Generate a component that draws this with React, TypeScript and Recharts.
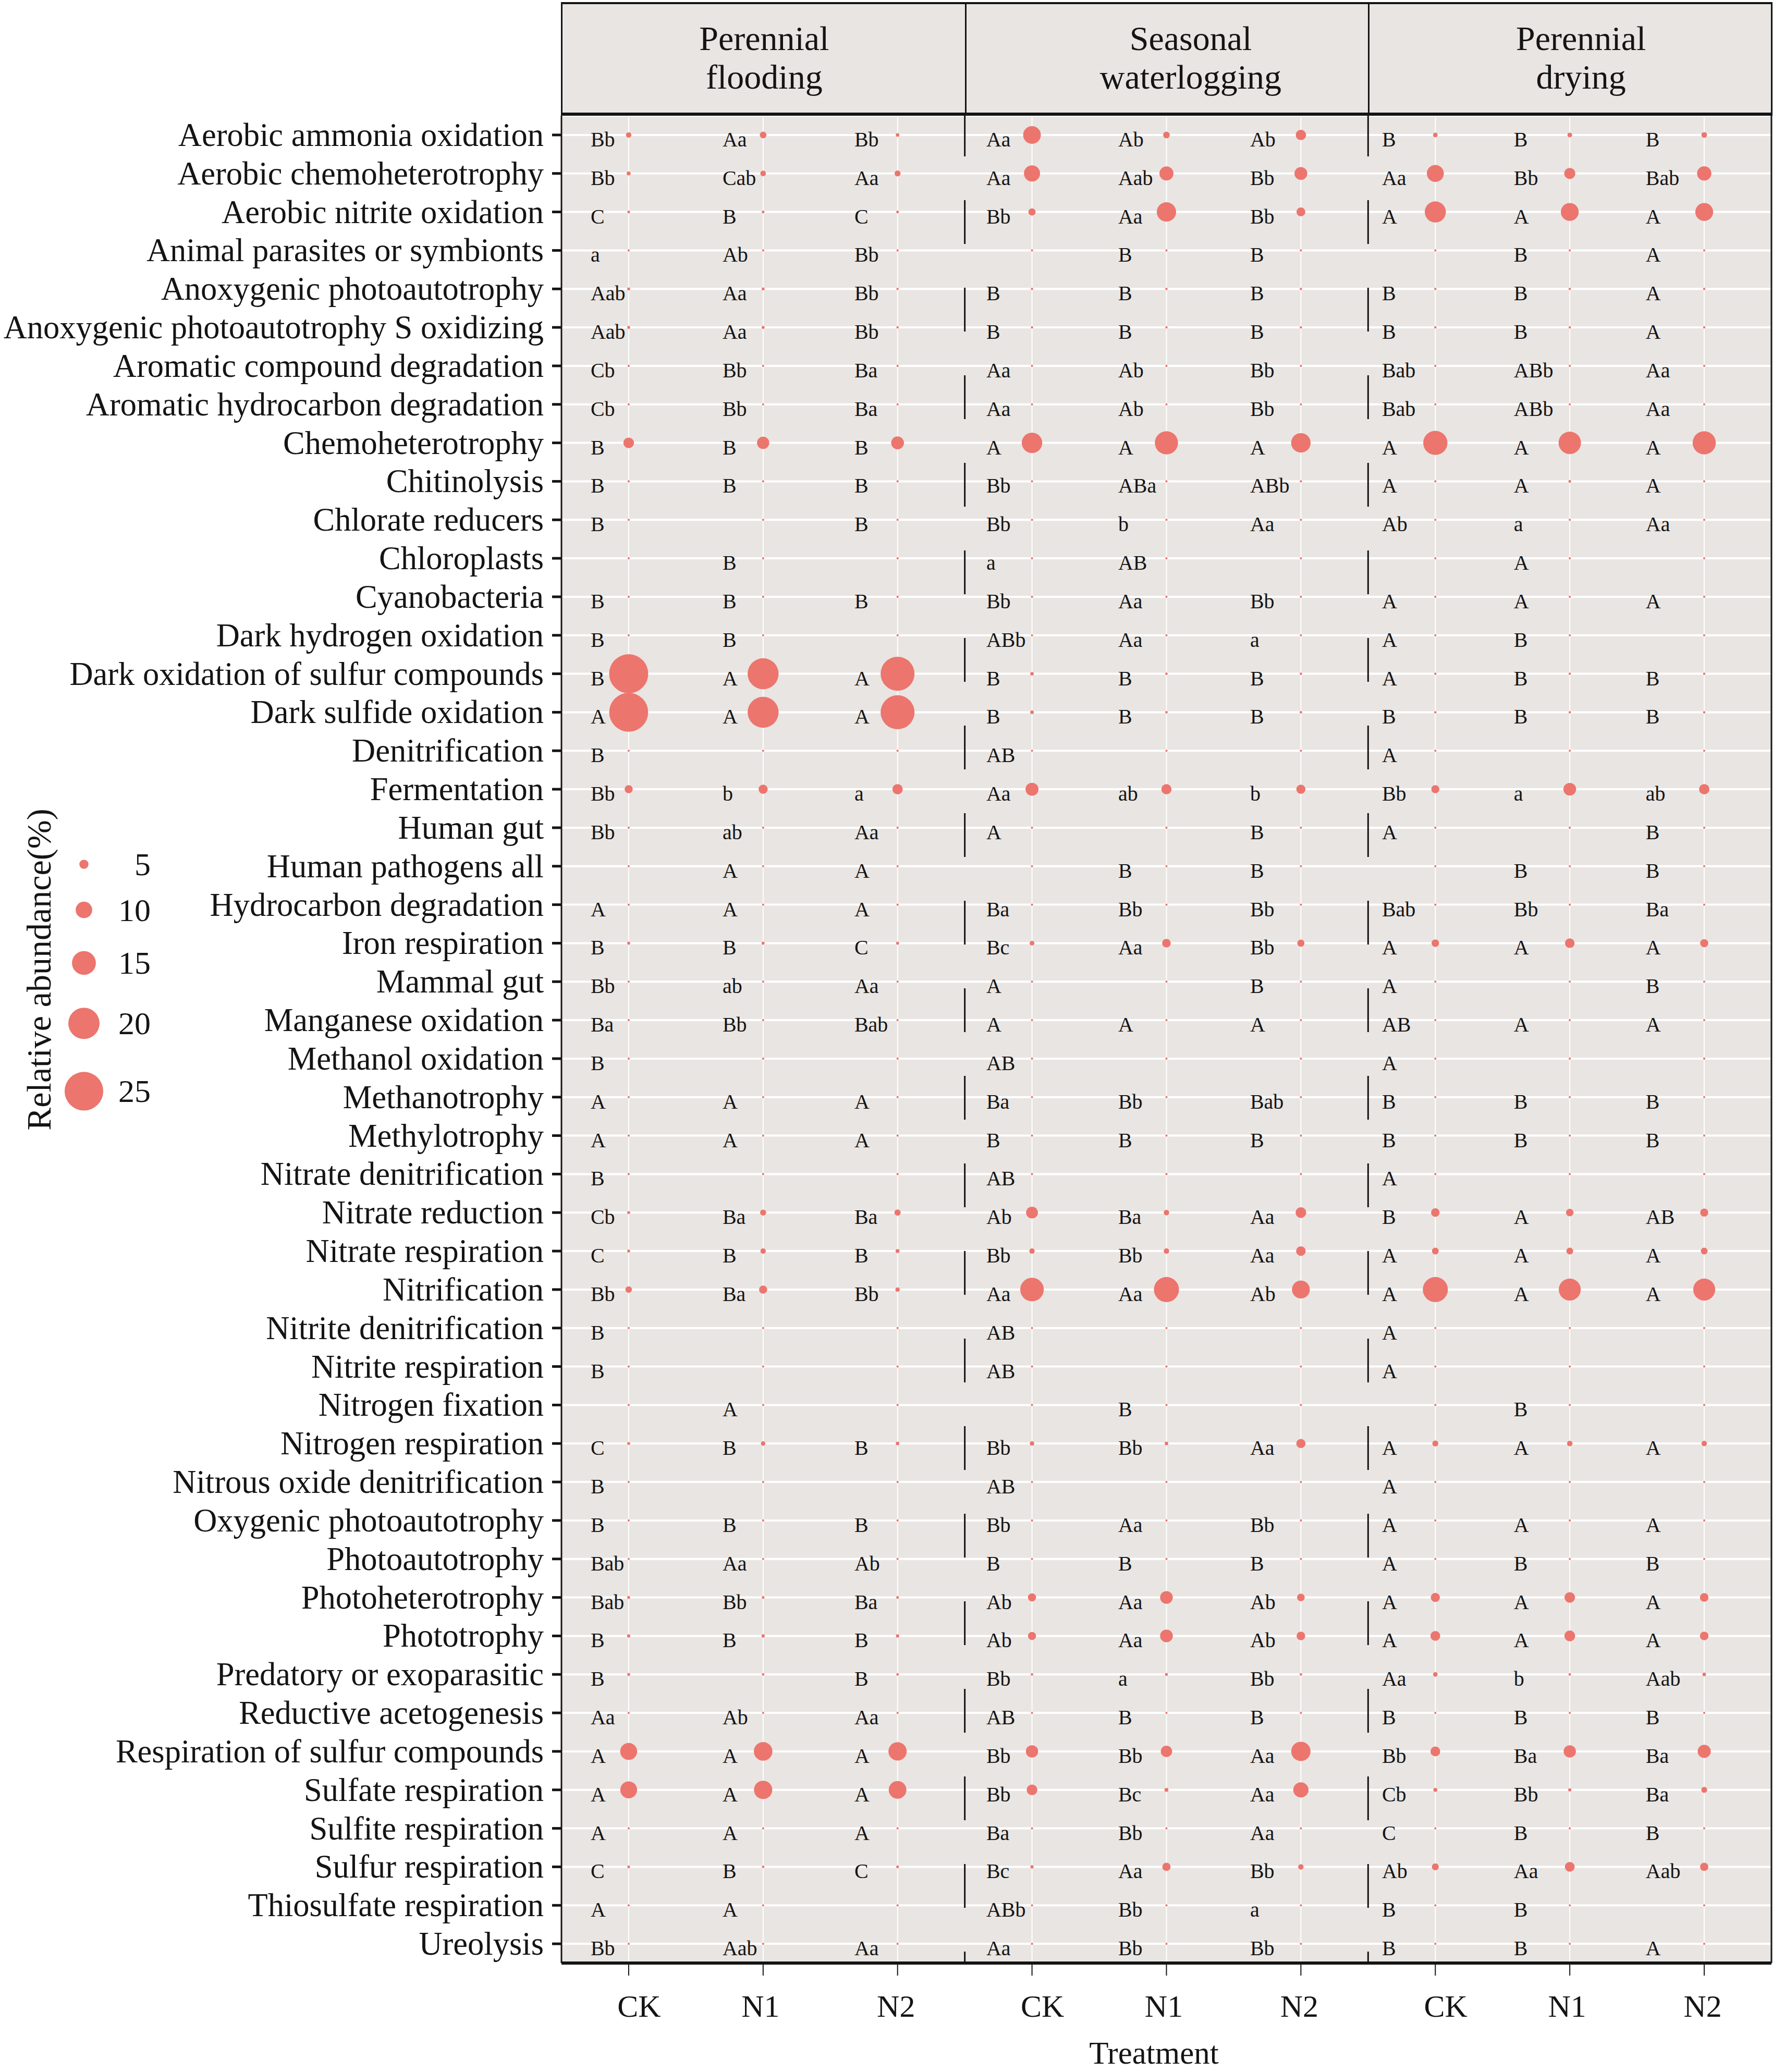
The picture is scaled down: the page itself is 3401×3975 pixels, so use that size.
import React from 'react';
import { ScatterChart, Scatter, XAxis, YAxis, CartesianGrid, ReferenceLine } from 'recharts';

// ---- data ----
const functions = [
  'Aerobic ammonia oxidation', 'Aerobic chemoheterotrophy', 'Aerobic nitrite oxidation',
  'Animal parasites or symbionts', 'Anoxygenic photoautotrophy', 'Anoxygenic photoautotrophy S oxidizing',
  'Aromatic compound degradation', 'Aromatic hydrocarbon degradation', 'Chemoheterotrophy',
  'Chitinolysis', 'Chlorate reducers', 'Chloroplasts', 'Cyanobacteria', 'Dark hydrogen oxidation',
  'Dark oxidation of sulfur compounds', 'Dark sulfide oxidation', 'Denitrification', 'Fermentation',
  'Human gut', 'Human pathogens all', 'Hydrocarbon degradation', 'Iron respiration', 'Mammal gut',
  'Manganese oxidation', 'Methanol oxidation', 'Methanotrophy', 'Methylotrophy',
  'Nitrate denitrification', 'Nitrate reduction', 'Nitrate respiration', 'Nitrification',
  'Nitrite denitrification', 'Nitrite respiration', 'Nitrogen fixation', 'Nitrogen respiration',
  'Nitrous oxide denitrification', 'Oxygenic photoautotrophy', 'Photoautotrophy', 'Photoheterotrophy',
  'Phototrophy', 'Predatory or exoparasitic', 'Reductive acetogenesis',
  'Respiration of sulfur compounds', 'Sulfate respiration', 'Sulfite respiration',
  'Sulfur respiration', 'Thiosulfate respiration', 'Ureolysis',
];

const groups = ['Perennial flooding', 'Seasonal waterlogging', 'Perennial drying'];
const treatments = ['CK', 'N1', 'N2'];

// relative abundance (%), one row per function, columns CK / N1 / N2
const floodingAbundance = [
  [2.5, 3.3, 1.2], [1.5, 2.6, 2.9], [0.6, 0.6, 0.6], [0.3, 0.3, 0.3], [0.8, 0.8, 0.4], [0.8, 0.8, 0.4],
  [0.3, 0.3, 0.3], [0.3, 0.3, 0.3], [6.0, 7.1, 7.5], [0.3, 0.3, 0.3], [0.3, 0.3, 0.3], [0.3, 0.3, 0.3],
  [0.3, 0.3, 0.3], [0.3, 0.3, 0.3], [25.3, 19.8, 21.8], [25.2, 19.8, 21.8], [0.3, 0.3, 0.3], [4.3, 5.0, 5.8],
  [0.3, 0.3, 0.3], [0.3, 0.3, 0.3], [0.3, 0.3, 0.3], [0.8, 0.8, 0.8], [0.3, 0.3, 0.3], [0.3, 0.3, 0.3],
  [0.3, 0.3, 0.3], [0.3, 0.3, 0.3], [0.3, 0.3, 0.3], [0.3, 0.3, 0.3], [0.8, 2.9, 3.0], [0.8, 2.5, 1.5],
  [3.2, 4.3, 1.8], [0.3, 0.3, 0.3], [0.3, 0.3, 0.3], [0.3, 0.3, 0.3], [0.8, 1.8, 1.2], [0.3, 0.3, 0.3],
  [0.3, 0.3, 0.3], [0.3, 0.3, 0.3], [0.8, 0.6, 0.6], [1.0, 1.0, 1.0], [0.8, 0.5, 0.5], [0.3, 0.3, 0.3],
  [10.3, 11.4, 11.2], [10.2, 11.2, 10.8], [0.3, 0.3, 0.3], [0.6, 0.5, 0.6], [0.3, 0.3, 0.3], [0.3, 0.3, 0.3],
];

const waterloggingAbundance = [
  [10.8, 3.3, 5.8], [9.7, 8.3, 7.5], [3.7, 11.9, 4.8], [0.3, 0.3, 0.3], [0.4, 0.4, 0.4], [0.4, 0.4, 0.4],
  [0.3, 0.3, 0.3], [0.3, 0.3, 0.3], [12.7, 14.5, 12.0], [0.3, 0.3, 0.3], [0.3, 0.3, 0.3], [0.3, 0.3, 0.3],
  [0.3, 0.3, 0.3], [0.3, 0.3, 0.3], [1.2, 0.5, 0.5], [1.2, 0.5, 0.5], [0.3, 0.3, 0.3], [7.6, 5.7, 5.0],
  [0.3, 0.3, 0.3], [0.3, 0.3, 0.3], [0.3, 0.3, 0.3], [2.0, 4.6, 3.6], [0.3, 0.3, 0.3], [0.3, 0.3, 0.3],
  [0.3, 0.3, 0.3], [0.3, 0.3, 0.3], [0.3, 0.3, 0.3], [0.3, 0.3, 0.3], [6.8, 2.5, 6.0], [2.5, 2.5, 5.3],
  [14.8, 15.8, 10.9], [0.3, 0.3, 0.3], [0.3, 0.3, 0.3], [0.3, 0.3, 0.3], [1.8, 1.2, 5.0], [0.3, 0.3, 0.3],
  [0.3, 0.3, 0.3], [0.3, 0.3, 0.3], [4.3, 7.4, 4.0], [4.3, 7.4, 4.6], [0.5, 0.8, 0.5], [0.3, 0.3, 0.3],
  [7.1, 6.5, 11.9], [6.0, 1.5, 9.1], [0.3, 0.3, 0.3], [1.0, 4.4, 2.5], [0.3, 0.3, 0.3], [0.3, 0.3, 0.3],
];

const dryingAbundance = [
  [2.0, 2.0, 2.6], [10.3, 6.3, 8.5], [13.1, 10.9, 10.9], [0.3, 0.3, 0.3], [0.4, 0.4, 0.4], [0.4, 0.4, 0.4],
  [0.3, 0.3, 0.3], [0.3, 0.3, 0.3], [15.2, 14.0, 14.5], [0.3, 0.6, 0.3], [0.3, 0.3, 0.3], [0.3, 0.3, 0.3],
  [0.3, 0.3, 0.3], [0.3, 0.3, 0.3], [0.4, 0.4, 0.4], [0.4, 0.4, 0.4], [0.3, 0.3, 0.3], [4.3, 7.4, 5.8],
  [0.3, 0.3, 0.3], [0.3, 0.3, 0.3], [0.3, 0.3, 0.3], [3.9, 5.3, 4.3], [0.3, 0.3, 0.3], [0.3, 0.3, 0.3],
  [0.3, 0.3, 0.3], [0.3, 0.3, 0.3], [0.3, 0.3, 0.3], [0.3, 0.3, 0.3], [4.6, 3.9, 4.3], [3.4, 3.4, 3.4],
  [15.8, 13.7, 13.7], [0.3, 0.3, 0.3], [0.3, 0.3, 0.3], [0.3, 0.3, 0.3], [2.9, 2.5, 2.5], [0.3, 0.3, 0.3],
  [0.3, 0.3, 0.3], [0.3, 0.3, 0.3], [5.0, 6.0, 4.6], [5.4, 6.1, 4.6], [1.9, 0.5, 1.2], [0.3, 0.3, 0.3],
  [5.4, 7.1, 7.7], [1.5, 1.0, 2.8], [0.3, 0.3, 0.3], [3.5, 5.4, 4.4], [0.3, 0.3, 0.3], [0.3, 0.3, 0.3],
];

// significance letters, same layout
const floodingLetters = [
  ['Bb', 'Aa', 'Bb'], ['Bb', 'Cab', 'Aa'], ['C', 'B', 'C'], ['a', 'Ab', 'Bb'], ['Aab', 'Aa', 'Bb'],
  ['Aab', 'Aa', 'Bb'], ['Cb', 'Bb', 'Ba'], ['Cb', 'Bb', 'Ba'], ['B', 'B', 'B'], ['B', 'B', 'B'],
  ['B', '', 'B'], ['', 'B', ''], ['B', 'B', 'B'], ['B', 'B', ''], ['B', 'A', 'A'], ['A', 'A', 'A'],
  ['B', '', ''], ['Bb', 'b', 'a'], ['Bb', 'ab', 'Aa'], ['', 'A', 'A'], ['A', 'A', 'A'], ['B', 'B', 'C'],
  ['Bb', 'ab', 'Aa'], ['Ba', 'Bb', 'Bab'], ['B', '', ''], ['A', 'A', 'A'], ['A', 'A', 'A'], ['B', '', ''],
  ['Cb', 'Ba', 'Ba'], ['C', 'B', 'B'], ['Bb', 'Ba', 'Bb'], ['B', '', ''], ['B', '', ''], ['', 'A', ''],
  ['C', 'B', 'B'], ['B', '', ''], ['B', 'B', 'B'], ['Bab', 'Aa', 'Ab'], ['Bab', 'Bb', 'Ba'], ['B', 'B', 'B'],
  ['B', '', 'B'], ['Aa', 'Ab', 'Aa'], ['A', 'A', 'A'], ['A', 'A', 'A'], ['A', 'A', 'A'], ['C', 'B', 'C'],
  ['A', 'A', ''], ['Bb', 'Aab', 'Aa'],
];

const waterloggingLetters = [
  ['Aa', 'Ab', 'Ab'], ['Aa', 'Aab', 'Bb'], ['Bb', 'Aa', 'Bb'], ['', 'B', 'B'], ['B', 'B', 'B'],
  ['B', 'B', 'B'], ['Aa', 'Ab', 'Bb'], ['Aa', 'Ab', 'Bb'], ['A', 'A', 'A'], ['Bb', 'ABa', 'ABb'],
  ['Bb', 'b', 'Aa'], ['a', 'AB', ''], ['Bb', 'Aa', 'Bb'], ['ABb', 'Aa', 'a'], ['B', 'B', 'B'], ['B', 'B', 'B'],
  ['AB', '', ''], ['Aa', 'ab', 'b'], ['A', '', 'B'], ['', 'B', 'B'], ['Ba', 'Bb', 'Bb'], ['Bc', 'Aa', 'Bb'],
  ['A', '', 'B'], ['A', 'A', 'A'], ['AB', '', ''], ['Ba', 'Bb', 'Bab'], ['B', 'B', 'B'], ['AB', '', ''],
  ['Ab', 'Ba', 'Aa'], ['Bb', 'Bb', 'Aa'], ['Aa', 'Aa', 'Ab'], ['AB', '', ''], ['AB', '', ''], ['', 'B', ''],
  ['Bb', 'Bb', 'Aa'], ['AB', '', ''], ['Bb', 'Aa', 'Bb'], ['B', 'B', 'B'], ['Ab', 'Aa', 'Ab'], ['Ab', 'Aa', 'Ab'],
  ['Bb', 'a', 'Bb'], ['AB', 'B', 'B'], ['Bb', 'Bb', 'Aa'], ['Bb', 'Bc', 'Aa'], ['Ba', 'Bb', 'Aa'],
  ['Bc', 'Aa', 'Bb'], ['ABb', 'Bb', 'a'], ['Aa', 'Bb', 'Bb'],
];

const dryingLetters = [
  ['B', 'B', 'B'], ['Aa', 'Bb', 'Bab'], ['A', 'A', 'A'], ['', 'B', 'A'], ['B', 'B', 'A'], ['B', 'B', 'A'],
  ['Bab', 'ABb', 'Aa'], ['Bab', 'ABb', 'Aa'], ['A', 'A', 'A'], ['A', 'A', 'A'], ['Ab', 'a', 'Aa'],
  ['', 'A', ''], ['A', 'A', 'A'], ['A', 'B', ''], ['A', 'B', 'B'], ['B', 'B', 'B'], ['A', '', ''],
  ['Bb', 'a', 'ab'], ['A', '', 'B'], ['', 'B', 'B'], ['Bab', 'Bb', 'Ba'], ['A', 'A', 'A'], ['A', '', 'B'],
  ['AB', 'A', 'A'], ['A', '', ''], ['B', 'B', 'B'], ['B', 'B', 'B'], ['A', '', ''], ['B', 'A', 'AB'],
  ['A', 'A', 'A'], ['A', 'A', 'A'], ['A', '', ''], ['A', '', ''], ['', 'B', ''], ['A', 'A', 'A'],
  ['A', '', ''], ['A', 'A', 'A'], ['A', 'B', 'B'], ['A', 'A', 'A'], ['A', 'A', 'A'], ['Aa', 'b', 'Aab'],
  ['B', 'B', 'B'], ['Bb', 'Ba', 'Ba'], ['Cb', 'Bb', 'Ba'], ['C', 'B', 'B'], ['Ab', 'Aa', 'Aab'],
  ['B', 'B', ''], ['B', 'B', 'A'],
];

const legendValues = [5, 10, 15, 20, 25];

// ---- styling ----
const FONT = "'Liberation Serif', 'Times New Roman', serif";
const PANEL_BG = '#E9E5E2';
const POINT = '#EC756E';
const INK = '#141414';

const WIDTH = 3401;
const HEIGHT = 3975;
const PLOT_LEFT = 1077;
const PLOT_RIGHT = 3398;
const PLOT_TOP = 222;
const PLOT_BOTTOM = 3766;

// small horizontal nudges so the texts sit where the original put them
const stripNudge = [2, 45, 20];
const tickNudge = [20, -5, -3];

const abundanceByGroup = [floodingAbundance, waterloggingAbundance, dryingAbundance];
const lettersByGroup = [floodingLetters, waterloggingLetters, dryingLetters];

const slotCount = groups.length * treatments.length;
const slots = Array.from({ length: slotCount }, (_, i) => i + 0.5);
const panelEdges = groups.slice(1).map((_, i) => (i + 1) * treatments.length);

const points = functions.flatMap((fn, r) =>
  groups.flatMap((group, gi) =>
    treatments.map((treatment, ti) => ({
      fn,
      group,
      treatment,
      slot: gi * treatments.length + ti + 0.5,
      value: abundanceByGroup[gi][r][ti],
      letter: lettersByGroup[gi][r][ti],
    }))
  )
);

// bubble diameter in px for a relative abundance value
const diameter = (v: number) => 3.4 + 2.83 * v;

const Bubble = (props: any) => {
  const { cx, cy, payload } = props;
  if (cx == null || cy == null) return null;
  const col = Math.floor(payload.slot);
  return (
    <g>
      <circle cx={cx} cy={cy} r={diameter(payload.value) / 2} fill={POINT} />
      {payload.letter ? (
        <text x={cx - 73 - 4.9 * col} y={cy + 22} fontSize={40} fontFamily={FONT} fill={INK}>
          {payload.letter}
        </text>
      ) : null}
    </g>
  );
};

const FunctionTick = (props: any) => {
  const { x, y, payload } = props;
  return (
    <text x={x} y={y} dy={21} textAnchor="end" fontSize={62.5} fontFamily={FONT} fill={INK}>
      {payload.value}
    </text>
  );
};

const TreatmentTick = (props: any) => {
  const { x, y, payload } = props;
  const ti = Math.floor(payload.value) % treatments.length;
  return (
    <text x={x + tickNudge[ti]} y={y} dy={71} textAnchor="middle" fontSize={60} fontFamily={FONT} fill={INK}>
      {treatments[ti]}
    </text>
  );
};

const SizeLegend = () => {
  const top = 1450;
  let yPos = 1658 - top;
  const keys = legendValues.map((v, i) => {
    if (i > 0) yPos += (diameter(legendValues[i - 1]) + diameter(v)) / 2 + 63;
    return { v, y: yPos };
  });
  return (
    <svg width={340} height={760} style={{ position: 'absolute', left: 0, top }}>
      <text
        x={75}
        y={410}
        dy={22}
        transform="rotate(-90, 75, 410)"
        textAnchor="middle"
        fontSize={66}
        fontFamily={FONT}
        fill={INK}
      >
        Relative abundance(%)
      </text>
      {keys.map((k) => (
        <g key={k.v}>
          <circle cx={161} cy={k.y} r={diameter(k.v) / 2} fill={POINT} />
          <text x={289} y={k.y} dy={21} textAnchor="end" fontSize={62} fontFamily={FONT} fill={INK}>
            {k.v}
          </text>
        </g>
      ))}
    </svg>
  );
};

const StripHeaders = () => {
  const pw = (PLOT_RIGHT - PLOT_LEFT) / groups.length;
  return (
    <div
      style={{
        position: 'absolute',
        left: PLOT_LEFT - 1.5,
        top: 4,
        width: PLOT_RIGHT - PLOT_LEFT + 3,
        height: PLOT_TOP - 4,
        boxSizing: 'border-box',
        background: PANEL_BG,
        borderTop: `4px solid ${INK}`,
        borderBottom: `6px solid ${INK}`,
        borderLeft: `3px solid ${INK}`,
        borderRight: `3px solid ${INK}`,
      }}
    >
      {groups.map((g, i) => (
        <div
          key={g}
          style={{
            position: 'absolute',
            left: i * pw - 1.5,
            top: 0,
            width: pw,
            height: '100%',
            boxSizing: 'border-box',
            borderLeft: i > 0 ? `3px solid ${INK}` : 'none',
          }}
        >
          <div
            style={{
              position: 'absolute',
              left: 0,
              right: 0,
              top: 29,
              textAlign: 'center',
              fontFamily: FONT,
              fontSize: 66,
              lineHeight: '74px',
              color: INK,
              transform: `translateX(${stripNudge[i]}px)`,
            }}
          >
            {g.split(' ').map((w) => (
              <div key={w}>{w}</div>
            ))}
          </div>
        </div>
      ))}
    </div>
  );
};

const App: React.FC = () => {
  return (
    <div style={{ position: 'absolute', left: 0, top: 0, width: WIDTH, height: HEIGHT, background: '#fff' }}>
      <ScatterChart
        width={WIDTH}
        height={HEIGHT}
        margin={{ top: PLOT_TOP, right: WIDTH - PLOT_RIGHT, bottom: 0, left: 0 }}
      >
        <CartesianGrid horizontal vertical={false} stroke="#ffffff" strokeWidth={4} fill={PANEL_BG} />
        <CartesianGrid horizontal={false} vertical stroke="#ffffff" strokeWidth={2} />
        <XAxis
          type="number"
          dataKey="slot"
          domain={[0, slotCount]}
          ticks={slots}
          interval={0}
          height={HEIGHT - PLOT_BOTTOM}
          tick={<TreatmentTick />}
          tickSize={24}
          tickMargin={8}
          tickLine={{ stroke: INK, strokeWidth: 2 }}
          axisLine={{ stroke: INK, strokeWidth: 6 }}
          label={{
            value: 'Treatment',
            position: 'insideBottom',
            offset: 16,
            dx: -24,
            fontSize: 61,
            fontFamily: FONT,
            fill: INK,
          }}
        />
        <YAxis
          type="category"
          dataKey="fn"
          reversed
          allowDuplicatedCategory={false}
          interval={0}
          width={PLOT_LEFT}
          tick={<FunctionTick />}
          tickSize={18}
          tickMargin={16}
          tickLine={{ stroke: INK, strokeWidth: 5 }}
          axisLine={{ stroke: INK, strokeWidth: 3 }}
        />
        {panelEdges.map((x) => (
          <ReferenceLine
            key={x}
            x={x}
            stroke={INK}
            strokeWidth={3}
            strokeDasharray="84 84"
            strokeDashoffset={62}
          />
        ))}
        <ReferenceLine x={slotCount} stroke={INK} strokeWidth={3} />
        <Scatter data={points} shape={<Bubble />} isAnimationActive={false} />
      </ScatterChart>
      <StripHeaders />
      <SizeLegend />
    </div>
  );
};

export default App;
